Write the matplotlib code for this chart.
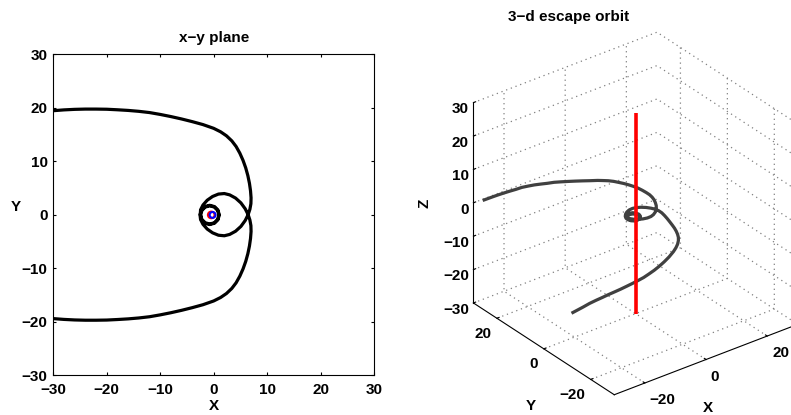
import matplotlib
matplotlib.use('Agg')
import matplotlib.pyplot as plt
from matplotlib.patches import Circle
from mpl_toolkits.mplot3d import Axes3D  # noqa: F401

plt.rcParams['font.family'] = ['Liberation Sans', 'DejaVu Sans']
plt.rcParams['font.weight'] = 'bold'
plt.rcParams['font.size'] = 11
plt.rcParams['grid.color'] = '0.5'
plt.rcParams['grid.linestyle'] = (0, (1, 3))
plt.rcParams['grid.linewidth'] = 0.9

# orbit samples in time order:
# incoming arm, lower half of mid loop, two inner turns, upper half of mid loop, outgoing arm
orbit_x = [-35.0, -32.0, -30.0, -28.0, -26.0, -24.0, -22.0, -20.0, -18.0, -16.0, -14.0, -12.0, -10.0, -8.0, -6.0,
           -4.0, -2.0, 0.0, 1.3, 2.4, 3.4, 4.2, 4.9, 5.5, 6.0, 6.4, 6.7, 6.9, 7.0, 6.97, 6.78, 6.45,
           5.9, 5.1, 4.1, 3.0, 2.0, 0.9, -0.2, -1.2, -2.0, -2.45,
           -2.55, -2.31, -1.65, -0.75, 0.15, 0.81, 1.05, 0.81, 0.15, -0.75, -1.65, -2.31,
           -2.42, -2.19, -1.57, -0.72, 0.13, 0.75, 0.98, 0.75, 0.13, -0.72, -1.57, -2.19,
           -2.5, -2.45, -2.0, -1.2, -0.2, 0.9, 2.0, 3.0, 4.1, 5.1, 5.9, 6.45,
           6.78, 6.97, 7.0, 6.9, 6.7, 6.4, 6.0, 5.5, 4.9, 4.2, 3.4, 2.4, 1.3, 0.0, -2.0,
           -4.0, -6.0, -8.0, -10.0, -12.0, -14.0, -16.0, -18.0, -20.0, -22.0, -24.0, -26.0, -28.0, -30.0, -32.0, -35.0]
orbit_y = [18.9, 19.25, 19.45, 19.6, 19.7, 19.75, 19.75, 19.72, 19.62, 19.5, 19.33, 19.1, 18.75, 18.35, 17.9,
           17.4, 16.85, 16.15, 15.5, 14.75, 13.8, 12.75, 11.5, 10.15, 8.75, 7.3, 5.85, 4.45, 3.15, 2.05, 1.0, 0.0,
           -1.1, -2.2, -3.1, -3.7, -3.95, -3.85, -3.4, -2.7, -1.8, -0.9,
           -0.05, 0.85, 1.51, 1.75, 1.51, 0.85, -0.05, -0.95, -1.61, -1.85, -1.61, -0.95,
           -0.05, 0.8, 1.42, 1.65, 1.42, 0.8, -0.05, -0.9, -1.52, -1.75, -1.52, -0.9,
           0.0, 0.9, 1.8, 2.7, 3.4, 3.85, 3.95, 3.7, 3.1, 2.2, 1.1, 0.0,
           -1.0, -2.05, -3.15, -4.45, -5.85, -7.3, -8.75, -10.15, -11.5, -12.75, -13.8, -14.75, -15.5, -16.15, -16.85,
           -17.4, -17.9, -18.35, -18.75, -19.1, -19.33, -19.5, -19.62, -19.72, -19.75, -19.75, -19.7, -19.6, -19.45,
           -19.25, -18.9]
orbit_z = [7.7, 7.4, 7.2, 7.0, 6.8, 6.6, 6.5, 6.2, 5.9, 5.5, 5.1, 4.8, 4.4, 4.0, 3.6,
           3.2, 2.8, 2.5, 2.3, 2.2, 2.1, 2.0, 2.0, 2.0, 2.0, 2.0, 1.9, 1.8, 1.7, 1.5, 1.3, 1.0,
           0.8, 0.6, 0.45, 0.3, 0.2, 0.1, 0.0, -0.1, -0.2, -0.3,
           -0.4, -0.43, -0.46, -0.49, -0.52, -0.55, -0.58, -0.61, -0.64, -0.67, -0.7, -0.73,
           -0.75, -0.77, -0.8, -0.82, -0.85, -0.87, -0.9, -0.92, -0.95, -0.97, -0.99, -1.0,
           -1.0, -1.0, -1.0, -1.0, -1.0, -1.0, -1.0, -1.0, -1.0, -1.0, -1.0, -1.0,
           -1.1, -1.3, -1.6, -1.9, -2.2, -2.4, -2.5, -2.6, -2.7, -2.8, -3.0, -3.3, -3.6, -4.0, -4.6,
           -5.1, -5.5, -5.8, -6.0, -6.2, -6.3, -6.4, -6.5, -6.6, -6.7, -6.8, -7.0, -7.2, -7.5,
           -8.0, -8.7]

# central body drawn as two small rings
body_x = [-0.45, -0.2]
body_y = [-0.05, -0.05]
body_r = [0.62, 0.55]
body_colors = ['red', 'blue']

# spin axis through the origin
spin_z = [-30, 30]

ticks_2d = [-30, -20, -10, 0, 10, 20, 30]
ticks_xy3d = [-20, 0, 20]
ticks_z3d = [-30, -20, -10, 0, 10, 20, 30]

fig = plt.figure(figsize=(7.91, 4.15), dpi=100)

# ---- x-y plane ----
ax1 = fig.add_axes([53.3 / 791, 1 - 375 / 415, 320.7 / 791, 320.7 / 415])
ax1.plot(orbit_x, orbit_y, color='black', lw=2.3)
for cx, cy, r, c in zip(body_x, body_y, body_r, body_colors):
    ax1.add_patch(Circle((cx, cy), r, fill=False, ec=c, lw=1.5))
ax1.set_xlim(-30, 30)
ax1.set_ylim(-30, 30)
ax1.set_xticks(ticks_2d)
ax1.set_yticks(ticks_2d)
ax1.tick_params(direction='in', length=2.5, width=0.8, top=True, right=True)
ax1.tick_params(axis='x', pad=5.5)
ax1.tick_params(axis='y', pad=4)
for s in ax1.spines.values():
    s.set_linewidth(0.8)
ax1.set_title('x\u2212y plane', fontsize=11, fontweight='bold', pad=9)
ax1.set_xlabel('X', fontweight='bold', va='center')
ax1.set_ylabel('Y', fontweight='bold', rotation=0, va='center', ha='center')
ax1.xaxis.set_label_coords(0.5, -0.096)
ax1.yaxis.set_label_coords(-0.116, 0.524)

# ---- 3-d view ----
ax2 = fig.add_axes([0.5510, 0.0043, 0.4918, 0.9373], projection='3d')
ax2.set_proj_type('ortho')
ax2.set_box_aspect((1, 1, 1))
ax2.view_init(elev=30, azim=-127.5)
ax2.plot(orbit_x, orbit_y, orbit_z, color='0.25', lw=2.3)
ax2.plot([0, 0], [0, 0], spin_z, color='red', lw=2.6, solid_capstyle='butt')
ax2.set_xlim(-30, 30)
ax2.set_ylim(-30, 30)
ax2.set_zlim(-30, 30)
ax2.set_xticks(ticks_xy3d)
ax2.set_yticks(ticks_xy3d)
ax2.set_zticks(ticks_z3d)
for a in (ax2.xaxis, ax2.yaxis, ax2.zaxis):
    a.set_pane_color((1, 1, 1, 0))
    a.pane.set_edgecolor((1, 1, 1, 0))
    a.line.set_color('black')
    a.line.set_linewidth(0.8)
    a._axinfo['tick']['inward_factor'] = 0.0
    a._axinfo['tick']['outward_factor'] = 0.15
ax2.tick_params(axis='x', pad=-3)
ax2.tick_params(axis='y', pad=-3.5)
ax2.tick_params(axis='z', pad=-6)
for t in ax2.xaxis.get_major_ticks():
    t.label1.set_horizontalalignment('left')
for t in ax2.yaxis.get_major_ticks():
    t.label1.set_horizontalalignment('right')
for t in ax2.zaxis.get_major_ticks():
    t.label1.set_horizontalalignment('right')

# axis names and title placed like the 2-d panel
fig.text(425 / 791, 1 - 203 / 415, 'Z', rotation=90, ha='center', va='center', fontweight='bold')
fig.text(531 / 791, 1 - 406 / 415, 'Y', ha='center', va='center', fontweight='bold')
fig.text(708 / 791, 1 - 408 / 415, 'X', ha='center', va='center', fontweight='bold')
fig.text(569 / 791, 1 - 17 / 415, '3\u2212d escape orbit', ha='center', va='center',
         fontsize=11, fontweight='bold')

fig.savefig('out.png', dpi=100, facecolor='white')
